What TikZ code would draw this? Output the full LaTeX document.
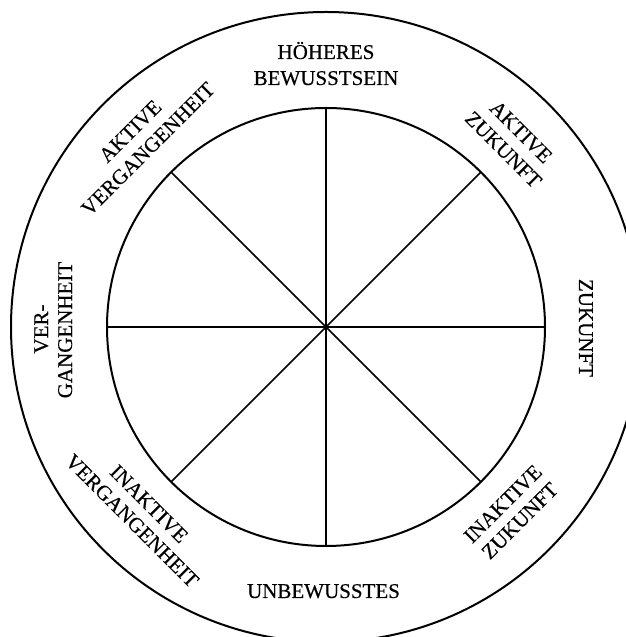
\documentclass[tikz,border=0pt]{standalone}
\usepackage{fontspec}
\setmainfont{Liberation Serif}
\begin{document}
\begin{tikzpicture}[x=1pt,y=1pt,
  ring/.style={circle, draw, line width=2pt, inner sep=0pt, outer sep=0pt},
  spoke/.style={line width=1.7pt},
  lbl/.style={font=\fontsize{21}{25}\selectfont\addfontfeature{FakeBold=0.4}, inner sep=0pt, anchor=base}]
\useasboundingbox (0,0) rectangle (626,637);
\clip (0,0) rectangle (626,637);
\coordinate (C) at (326,310);
\node[ring, minimum size=630pt] (outer) at (C) {};
\node[ring, minimum size=438pt] (inner) at (C) {};
\foreach \a in {0,45,...,315} \draw[spoke] (C) -- (inner.\a);
% labels
\node[lbl] (hoeh1) at (326,578) {HÖHERES};
\node[lbl] (hoeh2) at (326,552) {BEWUSSTSEIN};
\node[lbl] (unbew) at (323.5,39) {UNBEWUSSTES};
\node[lbl, rotate=-90] (zuk) at (579,309) {ZUKUNFT};
\node[lbl, rotate=90] (verg1) at (48,308) {VER-};
\node[lbl, rotate=90] (verg2) at (72,307) {GANGENHEIT};
\node[lbl, rotate=45] (av1) at ([shift={(135:270)}]C) {AKTIVE};
\node[lbl, rotate=45] (av2) at ([shift={(135:245)}]C) {VERGANGENHEIT};
\node[lbl, rotate=-45] (az1) at ([shift={(45:269)}]C) {AKTIVE};
\node[lbl, rotate=-45] (az2) at ([shift={(45:244)}]C) {ZUKUNFT};
\node[lbl, rotate=-45] (iv1) at ([shift={(225:257)}]C) {INAKTIVE};
\node[lbl, rotate=-45] (iv2) at ([shift={(225:281)}]C) {VERGANGENHEIT};
\node[lbl, rotate=45] (iz1) at ([shift={(315:257)}]C) {INAKTIVE};
\node[lbl, rotate=45] (iz2) at ([shift={(315:281)}]C) {ZUKUNFT};
\end{tikzpicture}
\end{document}
